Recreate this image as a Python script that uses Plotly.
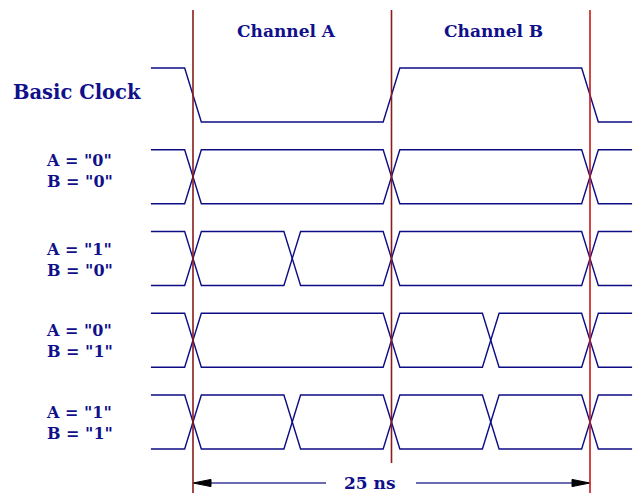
import plotly.graph_objects as go

# ---------------- data (time in ns, rows by index) ----------------
period_ns = 25.0
channel_names = ["Channel A", "Channel B"]
channel_centers_ns = [6.25, 18.75]
marker_times_ns = [0.0, 12.5, 25.0]
clock_edges_ns = [0.0, 12.5, 25.0]
clock_start_level = 1          # high before first edge
row_labels = ['A = "0"<br>B = "0"', 'A = "1"<br>B = "0"',
              'A = "0"<br>B = "1"', 'A = "1"<br>B = "1"']
row_crossings_ns = [
    [0.0, 12.5, 25.0],
    [0.0, 6.25, 12.5, 25.0],
    [0.0, 12.5, 18.75, 25.0],
    [0.0, 6.25, 12.5, 18.75, 25.0],
]
transition_ns = 1.05
signal_start_ns = -2.65
signal_end_ns = 27.65
span_label = "25 ns"

# ---------------- styling / geometry ----------------
W, H = 634, 493
PX_PER_NS = 397 / 25.0
X0_PX = 193
ROW_PX = 81.75
ROW0_PX = 95
AMP = 27 / ROW_PX
NAVY = "#0c0c84"
TEXT = "#10108a"
FONT = "DejaVu Serif"

def xr(px):
    return (px - X0_PX) / PX_PER_NS

def yr(px):
    return (px - ROW0_PX) / ROW_PX

def wave(edges, start_level, center):
    xs = [signal_start_ns]
    ys = [center - AMP * start_level]
    lvl = start_level
    for e in edges:
        xs += [e - transition_ns / 2, e + transition_ns / 2]
        ys += [center - AMP * lvl, center + AMP * lvl]
        lvl = -lvl
    xs.append(signal_end_ns)
    ys.append(center - AMP * lvl)
    return xs, ys

fig = go.Figure()

# clock (row 0)
cx, cy = wave(clock_edges_ns, 1 if clock_start_level else -1, 0)
fig.add_trace(go.Scatter(x=cx, y=cy, mode="lines",
                         line=dict(color=NAVY, width=1.4), hoverinfo="skip"))

# eye rows
for i, cr in enumerate(row_crossings_ns):
    for lvl in (1, -1):
        wx, wy = wave(cr, lvl, i + 1)
        fig.add_trace(go.Scatter(x=wx, y=wy, mode="lines",
                                 line=dict(color=NAVY, width=1.4), hoverinfo="skip"))

# vertical markers
marker_colors = ["#8a1c1c", "#8a1c1c", "#c81818"]
marker_bottom = [yr(493), yr(463), yr(493)]
for t, c, b in zip(marker_times_ns, marker_colors, marker_bottom):
    fig.add_shape(type="line", x0=t, x1=t, y0=yr(10), y1=b,
                  line=dict(color=c, width=1.6), layer="above")

# span arrow
ya = yr(483)
gap_center = xr(371)
gap_half = 45 / PX_PER_NS
head_len = 18 / PX_PER_NS
head_half = 3.6 / ROW_PX
t0, t1 = marker_times_ns[0], marker_times_ns[-1]
ARROW = "#3a3a9a"
fig.add_trace(go.Scatter(x=[t0 + head_len, gap_center - gap_half], y=[ya, ya],
                         mode="lines", line=dict(color=ARROW, width=1.3), hoverinfo="skip"))
fig.add_trace(go.Scatter(x=[gap_center + gap_half, t1 - head_len], y=[ya, ya],
                         mode="lines", line=dict(color=ARROW, width=1.3), hoverinfo="skip"))
for tip, d in ((t0, 1), (t1, -1)):
    fig.add_trace(go.Scatter(x=[tip, tip + d * head_len, tip + d * head_len, tip],
                             y=[ya, ya - head_half, ya + head_half, ya],
                             mode="lines", fill="toself", fillcolor="black",
                             line=dict(color="black", width=1), hoverinfo="skip"))
fig.add_annotation(x=gap_center, y=ya, xshift=-1, text=span_label, showarrow=False,
                   font=dict(family=FONT, size=17, color=TEXT, weight="bold"))

# channel labels
channel_xshift = [-6, 3]
for name, c, s in zip(channel_names, channel_centers_ns, channel_xshift):
    fig.add_annotation(x=c, y=yr(31), xshift=s, text=name, showarrow=False,
                       font=dict(family=FONT, size=17, color=TEXT, weight="bold"))

# row labels
fig.add_annotation(x=xr(11), y=0, yshift=3, text="Basic Clock", showarrow=False,
                   xanchor="left",
                   font=dict(family=FONT, size=19.5, color=TEXT, weight="bold"))
label_shift = [6, -1, -1, -1]
for i, lab in enumerate(row_labels):
    fig.add_annotation(x=xr(44), y=i + 1, yshift=label_shift[i], text=lab,
                       showarrow=False, xanchor="left", align="left",
                       font=dict(family=FONT, size=16, color=TEXT, weight="bold"))

fig.update_layout(
    width=W, height=H, margin=dict(l=0, r=0, t=0, b=0),
    paper_bgcolor="white", plot_bgcolor="white", showlegend=False,
    xaxis=dict(range=[xr(0), xr(W)], visible=False, fixedrange=True),
    yaxis=dict(range=[yr(H), yr(0)], visible=False, fixedrange=True),
)
fig.write_html("out.html", config={"displayModeBar": False},
               post_script="document.body.style.margin='0';document.body.style.overflow='hidden';")
